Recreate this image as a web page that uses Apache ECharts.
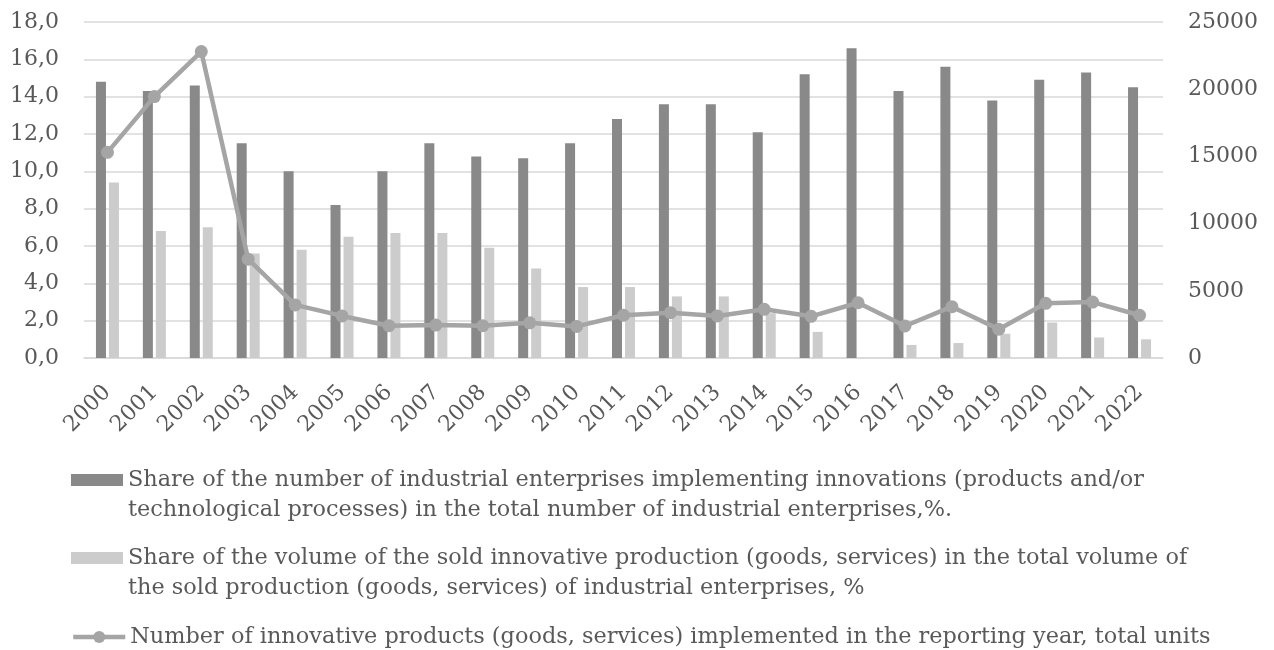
<!DOCTYPE html>
<html>
<head>
<meta charset="utf-8">
<script src="https://cdn.jsdelivr.net/npm/echarts@6/dist/echarts.min.js"></script>
<style>
html,body{margin:0;padding:0;background:#fff;}
#chart{width:1274px;height:650px;}
</style>
</head>
<body>
<div id="chart"></div>
<script>
const years = ['2000','2001','2002','2003','2004','2005','2006','2007','2008','2009','2010','2011','2012','2013','2014','2015','2016','2017','2018','2019','2020','2021','2022'];
const shareEnterprises = [14.8,14.3,14.6,11.5,10.0,8.2,10.0,11.5,10.8,10.7,11.5,12.8,13.6,13.6,12.1,15.2,16.6,14.3,15.6,13.8,14.9,15.3,14.5];
const shareSold = [9.4,6.8,7.0,5.6,5.8,6.5,6.7,6.7,5.9,4.8,3.8,3.8,3.3,3.3,2.4,1.4,null,0.7,0.8,1.3,1.9,1.1,1.0];
const innovativeProducts = [15300,19450,22800,7350,3950,3130,2400,2450,2400,2620,2350,3180,3370,3130,3620,3100,4110,2380,3820,2140,4070,4160,3180];

const name1 = 'Share of the number of industrial enterprises implementing innovations (products and/or technological processes) in the total number of industrial enterprises,%.';
const name2 = 'Share of the volume of the sold innovative production (goods, services) in the total volume of the sold production (goods, services) of industrial enterprises, %';
const name3 = 'Number of innovative products (goods, services) implemented in the reporting year, total units';
const legendLines = {};
legendLines[name1] = ['Share of the number of industrial enterprises implementing innovations (products and/or', 'technological processes) in the total number of industrial enterprises,%.'];
legendLines[name2] = ['Share of the volume of the sold innovative production (goods, services) in the total volume of', 'the sold production (goods, services) of industrial enterprises, %'];
legendLines[name3] = [name3];

const FONT = 'DejaVu Serif';
const TXT = '#595959';

const chart = echarts.init(document.getElementById('chart'), null, {renderer:'canvas'});

// An empty first line keeps the first text line centred on the legend icon.
function makeLegend(name, top, itemHeight, icon) {
  const lg = {
    data: [name],
    left: 71,
    top: top,
    padding: 0,
    itemWidth: 52,
    itemHeight: itemHeight,
    itemGap: 0,
    selectedMode: false,
    lineStyle: { width: 4.5 },
    formatter: n => {
      const l = legendLines[n];
      return l.length > 1 ? '\n' + l.join('\n') : l[0];
    },
    textStyle: {
      fontFamily: FONT,
      fontSize: 22.4,
      color: TXT,
      lineHeight: 30
    }
  };
  if (icon) lg.icon = icon;
  return lg;
}

const option = {
  animation: false,
  backgroundColor: '#ffffff',
  textStyle: { fontFamily: FONT },
  grid: { left: 84, right: 111, top: 22, bottom: 292, containLabel: false },
  legend: [
    makeLegend(name1, 435, 12, 'rect'),
    makeLegend(name2, 513, 12, 'rect'),
    makeLegend(name3, 622, 15, null)
  ],
  xAxis: {
    type: 'category',
    data: years,
    axisLine: { show: true, lineStyle: { color: '#d9d9d9', width: 1.5 } },
    axisTick: { show: false },
    axisLabel: {
      interval: 0,
      rotate: 45,
      margin: 31,
      fontFamily: FONT,
      fontSize: 22,
      color: TXT
    }
  },
  yAxis: [
    {
      type: 'value',
      min: 0, max: 18, interval: 2,
      axisLine: { show: false },
      axisTick: { show: false },
      splitLine: { show: true, lineStyle: { color: '#d9d9d9', width: 1.5 } },
      axisLabel: {
        margin: 25,
        fontFamily: FONT,
        fontSize: 22,
        color: TXT,
        formatter: v => v.toFixed(1).replace('.', ',')
      }
    },
    {
      type: 'value',
      min: 0, max: 25000, interval: 5000,
      axisLine: { show: false },
      axisTick: { show: false },
      splitLine: { show: false },
      axisLabel: {
        margin: 25,
        fontFamily: FONT,
        fontSize: 22,
        color: TXT,
        formatter: v => String(v)
      }
    }
  ],
  series: [
    {
      name: name1,
      type: 'bar',
      data: shareEnterprises,
      barWidth: 10,
      barGap: '30%',
      itemStyle: { color: '#898989' },
      z: 2
    },
    {
      name: name2,
      type: 'bar',
      data: shareSold,
      barWidth: 10,
      barGap: '30%',
      itemStyle: { color: '#cccccc' },
      z: 2
    },
    {
      name: name3,
      type: 'line',
      yAxisIndex: 1,
      data: innovativeProducts,
      symbol: 'circle',
      symbolSize: 13,
      lineStyle: { color: '#a5a5a5', width: 4.5 },
      itemStyle: { color: '#a5a5a5' },
      z: 5
    }
  ]
};
chart.setOption(option);
</script>
</body>
</html>
